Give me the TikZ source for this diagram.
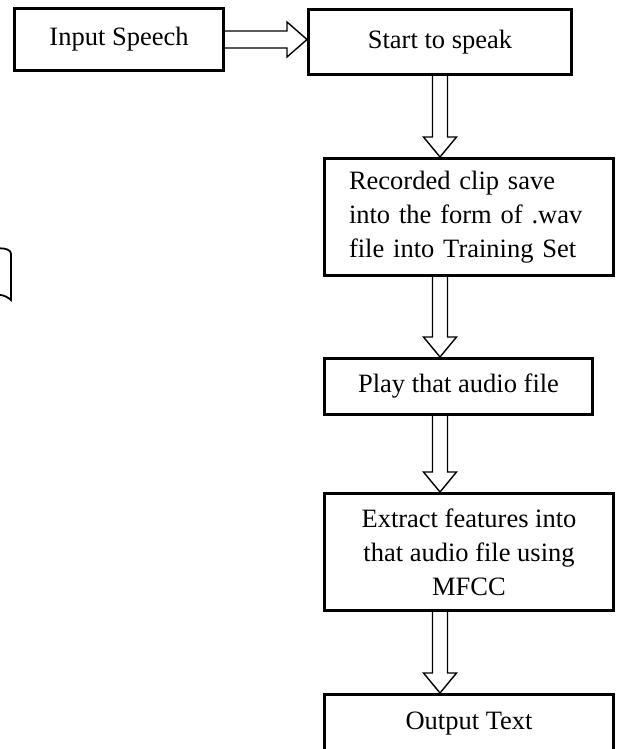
\documentclass[tikz,border=0pt]{standalone}
\usepackage{fontspec}
\setmainfont{Liberation Serif}
\usetikzlibrary{calc}

\tikzset{
  stage/.style={draw, line width=1.5pt, font=\fontsize{13.25}{17}\selectfont, align=center, inner sep=2pt},
  hollow/.style={draw, line width=0.7pt, line join=miter},
}

\begin{document}
\begin{tikzpicture}[x=0.5pt,y=-0.5pt]
\useasboundingbox (0,0) rectangle (616,749);
\clip (0,0) rectangle (616,749);
% stages
\node[stage, minimum width=104.5pt, minimum height=31pt] (inp) at (119,39.5) {Input Speech};
\node[stage, minimum width=131.5pt, minimum height=32.5pt] (start) at (440,42) {Start to speak};
\node[stage, minimum width=144.5pt, minimum height=58.5pt, text width=120pt, align=left] (rec) at (469,217) {Recorded clip save\\into the form of .wav\\file into Training Set};
\node[stage, minimum width=134pt, minimum height=28pt] (play) at (458.5,386.5) {Play that audio file};
\node[stage, minimum width=144.5pt, minimum height=58.5pt] (ext) at (469,552) {Extract features into\\that audio file using\\MFCC};
\node[stage, minimum width=144.5pt, minimum height=29.5pt] (out) at (469,724) {Output Text};
% block arrows
\draw[hollow] let \p1=(inp.east), \p2=(start.west) in
  (\x1,\y1-4.25pt) -- (\x2-10pt,\y1-4.25pt) -- (\x2-10pt,\y1-8.75pt) -- (\x2,\y1)
  -- (\x2-10pt,\y1+8.75pt) -- (\x2-10pt,\y1+4.25pt) -- (\x1,\y1+4.25pt);
\foreach \a/\b in {start/rec, rec/play, play/ext, ext/out}
  \draw[hollow] let \p0=(start.south), \p1=(\a.south), \p2=(\b.north) in
    (\x0-3.75pt,\y1) -- (\x0-3.75pt,\y2+10pt) -- (\x0-8.25pt,\y2+10pt) -- (\x0,\y2)
    -- (\x0+8.25pt,\y2+10pt) -- (\x0+3.75pt,\y2+10pt) -- (\x0+3.75pt,\y1);
% cut-off shape at the left edge
\draw[line width=0.9pt] (0,248.3) .. controls (6,248.3) and (11,250) .. (11,254)
  -- (11,300) .. controls (8,297.5) and (4,295) .. (0,295);
\end{tikzpicture}
\end{document}
